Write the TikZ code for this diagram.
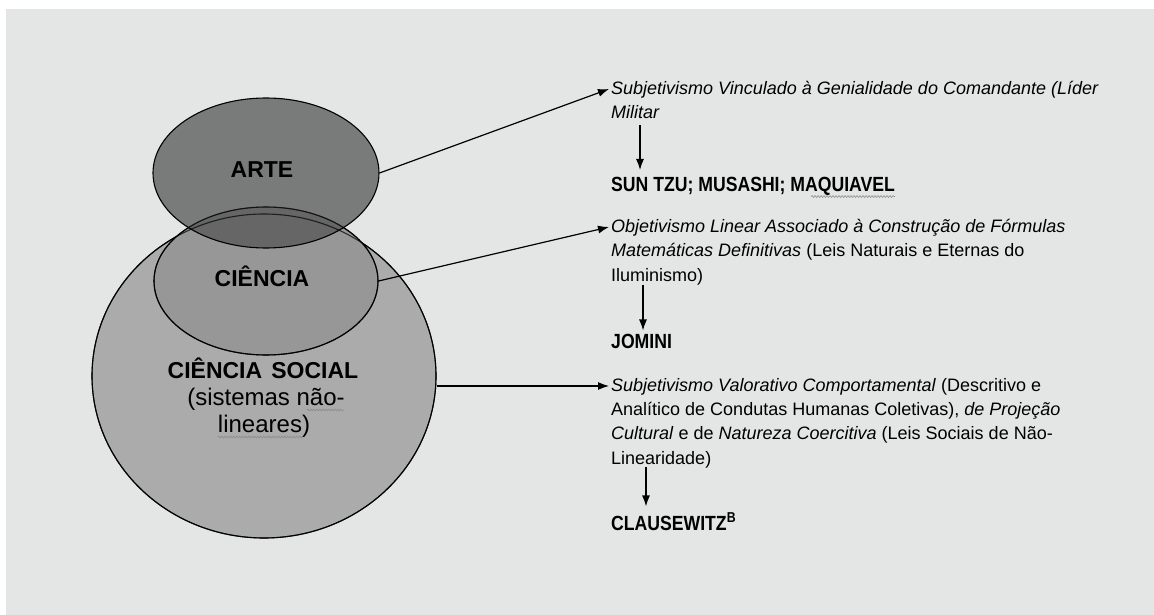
\documentclass[tikz,border=0pt]{standalone}
\usepackage{fontspec}
\setmainfont{Liberation Sans}
\newfontfamily\namefont[FakeStretch=0.86]{Liberation Sans}
\usetikzlibrary{shapes.geometric, arrows.meta, decorations.pathmorphing}
\definecolor{paper}{HTML}{E4E6E6}
\definecolor{socialgray}{HTML}{ABABAB}
\definecolor{sciencegray}{HTML}{979797}
\definecolor{artgray}{HTML}{565656}

\begin{document}
\begin{tikzpicture}[x=1pt, y=-1pt,
    set/.style = {draw, ellipse, line width=1.1pt, inner sep=0pt},
    lbl/.style = {inner sep=0pt, anchor=base, font=\fontsize{23}{27}\selectfont\bfseries},
    sub/.style = {inner sep=0pt, anchor=base, font=\fontsize{24}{27}\selectfont},
    txt/.style = {inner sep=0pt, anchor=base west, align=left, font=\fontsize{18}{24.3}\selectfont},
    who/.style = {inner sep=0pt, anchor=base west, font=\namefont\fontsize{20.5}{24}\selectfont\bfseries},
    link/.style = {-{Latex[length=11pt, width=8pt]}, line width=1.2pt},
    squiggle/.style = {draw=black!45, line width=0.6pt, decorate, decoration={snake, amplitude=0.9pt, segment length=3pt}}]

  \useasboundingbox (0,0) rectangle (1154,615);
  \fill[white] (0,0) rectangle (1154,615);
  \fill[paper] (6,9) rectangle (1154,615);

  % the three sets
  \node[set, fill=socialgray, minimum width=344pt, minimum height=324pt] (social) at (264,376) {};
  \node[set, fill=sciencegray, minimum width=224pt, minimum height=148pt] (cien) at (266,281) {};
  \node[set, fill=artgray, fill opacity=0.75, minimum width=226pt, minimum height=150pt] (arte) at (266,173) {};
  \draw[line width=1.1pt, opacity=0.7] (cien.center) ellipse [x radius=112, y radius=74];
  \draw[line width=1.1pt, opacity=0.7] (social.center) ellipse [x radius=172, y radius=162];

  \node[lbl] (artelbl) at (262,178) {ARTE};
  \node[lbl] (cienlbl) at (262,286.5) {CIÊNCIA};
  \node[lbl] (soclbl) at (263,378) {CIÊNCIA\hspace{0.4em}SOCIAL};
  \node[sub] (sislbl) at (266,405) {(sistemas não-};
  \node[sub] (linlbl) at (264,432) {lineares)};
  \draw[squiggle] ([xshift=-38pt, yshift=-5pt]sislbl.base east) -- ([xshift=-1pt, yshift=-5pt]sislbl.base east);
  \draw[squiggle] ([yshift=-5pt]linlbl.base west) -- ([xshift=-8pt, yshift=-5pt]linlbl.base east);

  % texts on the right (placed by their last line)
  \node[txt, font=\fontsize{18}{24.3}\selectfont\itshape] (t1) at (611,119)
    {Subjetivismo Vinculado à Genialidade do Comandante (Líder\\Militar};
  \node[who] (sun) at (611,191.5) {SUN TZU; MUSASHI; MAQUIAVEL};
  \draw[squiggle] ([xshift=-84pt, yshift=-5pt]sun.base east) -- ([yshift=-5pt]sun.base east);

  \node[txt] (t2) at (611,281)
    {\textit{Objetivismo Linear Associado à Construção de Fórmulas}\\
     \textit{Matemáticas Definitivas} (Leis Naturais e Eternas do\\
     Iluminismo)};
  \node[who] (jom) at (611,348) {JOMINI};

  \node[txt] (t3) at (611,464)
    {\textit{Subjetivismo Valorativo Comportamental} (Descritivo e\\
     Analítico de Condutas Humanas Coletivas), \textit{de Projeção}\\
     \textit{Cultural} e de \textit{Natureza Coercitiva} (Leis Sociais de Não-\\
     Linearidade)};
  \node[who] (clau) at (611,530) {CLAUSEWITZ\textsuperscript{B}};

  % connectors
  \coordinate (p3) at ([xshift=-2pt, yshift=78pt]t3.base west);
  \draw[link] (arte.east) -- ([xshift=-2pt, yshift=30pt]t1.base west);
  \draw[link] (cien.east) -- ([xshift=-2pt, yshift=54pt]t2.base west);
  \draw[link] (social.east |- p3) -- (p3);

  \draw[link] ([xshift=29pt, yshift=-6pt]t1.south west) -- ([xshift=29pt, yshift=7pt]sun.north west);
  \draw[link] ([xshift=32pt]t2.south west) -- ([xshift=32pt, yshift=3pt]jom.north west);
  \draw[link] ([xshift=35pt, yshift=1pt]t3.south west) -- ([xshift=35pt, yshift=6pt]clau.north west);
\end{tikzpicture}
\end{document}
